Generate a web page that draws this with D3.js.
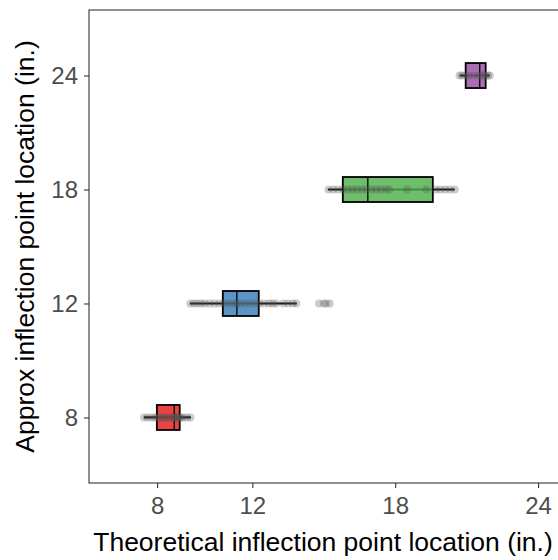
<!DOCTYPE html>
<html>
<head>
<meta charset="utf-8">
<script src="https://cdn.jsdelivr.net/npm/d3@7"></script>
<style>
  body { margin: 0; background: #fff; }
  svg { display: block; font-family: "Liberation Sans", Arial, sans-serif; }
</style>
</head>
<body>
<div id="chart"></div>
<script>
// groups (approx inflection point, in.)
const groups = ["8", "12", "18", "24"];
const colors = ["#E41A1C", "#377EB8", "#4DAF4A", "#984EA3"];

// boxplot stats, theoretical location (in.)
const whiskerLo = [7.44, 9.37, 15.17, 20.71];
const q1 = [7.99, 10.76, 15.8, 20.96];
const median = [8.72, 11.35, 16.85, 21.55];
const q3 = [8.95, 12.27, 19.58, 21.8];
const whiskerHi = [9.42, 13.87, 20.5, 21.97];

// raw observations per group
const points8 = [7.45, 7.6, 7.75, 7.9, 8.0, 8.1, 8.2, 8.3, 8.4, 8.5, 8.6, 8.7, 8.75, 8.8, 8.85, 8.9, 8.95, 9.0, 9.1, 9.25, 9.4];
const points12 = [9.4, 9.55, 9.7, 9.85, 10.0, 10.2, 10.4, 10.6, 10.8, 11.0, 11.2, 11.35, 11.5, 11.7, 11.9, 12.1, 12.3, 12.5, 12.7, 12.85, 13.0, 13.3, 13.5, 13.7, 13.85, 14.8, 15.0, 15.1, 15.25];
const points18 = [15.2, 15.4, 15.6, 15.8, 16.0, 16.2, 16.4, 16.6, 16.8, 17.0, 17.2, 17.4, 17.6, 17.75, 18.5, 19.3, 19.7, 19.9, 20.1, 20.3, 20.5];
const points24 = [20.7, 20.8, 20.95, 21.1, 21.3, 21.5, 21.6, 21.7, 21.8, 21.9, 21.97];
const pointSets = [points8, points12, points18, points24];

const xTicks = [8, 12, 18, 24];

const width = 558;
const height = 560;
const margin = { top: 10, right: 0, left: 89, bottom: 77 };
const innerHeight = height - margin.top - margin.bottom;

const svg = d3.select("#chart").append("svg")
  .attr("width", width)
  .attr("height", height);

const x = d3.scaleLinear()
  .domain([5.14, 24.9])
  .range([margin.left, margin.left + (24.9 - 5.14) * 23.81]);

const y = d3.scalePoint()
  .domain(groups)
  .range([height - margin.bottom, margin.top])
  .padding(0.575);

const boxH = 25;

const data = groups.map((g, i) => ({
  g, color: colors[i],
  lo: whiskerLo[i], q1: q1[i], med: median[i], q3: q3[i], hi: whiskerHi[i],
  pts: pointSets[i],
}));

// whiskers
svg.append("g").selectAll("line")
  .data(data)
  .join("line")
  .attr("x1", (d) => x(d.lo))
  .attr("x2", (d) => x(d.hi))
  .attr("y1", (d) => y(d.g))
  .attr("y2", (d) => y(d.g))
  .attr("stroke", "#000")
  .attr("stroke-width", 2.2);

// boxes
svg.append("g").selectAll("rect")
  .data(data)
  .join("rect")
  .attr("x", (d) => x(d.q1))
  .attr("width", (d) => x(d.q3) - x(d.q1))
  .attr("y", (d) => y(d.g) - boxH / 2)
  .attr("height", boxH)
  .attr("fill", (d) => d.color)
  .attr("fill-opacity", 0.82)
  .attr("stroke", "#000")
  .attr("stroke-width", 1.8);

// medians
svg.append("g").selectAll("line")
  .data(data)
  .join("line")
  .attr("x1", (d) => x(d.med))
  .attr("x2", (d) => x(d.med))
  .attr("y1", (d) => y(d.g) - boxH / 2)
  .attr("y2", (d) => y(d.g) + boxH / 2)
  .attr("stroke", "#000")
  .attr("stroke-width", 1.3);

// points
svg.append("g").selectAll("g")
  .data(data)
  .join("g")
  .selectAll("circle")
  .data((d) => d.pts.map((v) => ({ v, g: d.g })))
  .join("circle")
  .attr("cx", (d) => x(d.v))
  .attr("cy", (d) => y(d.g))
  .attr("r", 4)
  .attr("fill", "#555")
  .attr("fill-opacity", 0.3);

// panel border
svg.append("rect")
  .attr("x", margin.left)
  .attr("y", margin.top)
  .attr("width", width + 10 - margin.left)
  .attr("height", innerHeight)
  .attr("fill", "none")
  .attr("stroke", "#333")
  .attr("stroke-width", 1.1);

// x axis
const xAxis = svg.append("g")
  .attr("transform", `translate(0, ${height - margin.bottom})`)
  .call(d3.axisBottom(x).tickValues(xTicks).tickSize(5).tickPadding(9));
xAxis.select(".domain").remove();
xAxis.selectAll(".tick line").attr("stroke", "#333").attr("stroke-width", 1.1);
xAxis.selectAll(".tick text").attr("fill", "#4d4d4d").attr("font-size", 24);

// y axis
const yAxis = svg.append("g")
  .attr("transform", `translate(${margin.left}, 0)`)
  .call(d3.axisLeft(y).tickSize(5).tickPadding(6));
yAxis.select(".domain").remove();
yAxis.selectAll(".tick line").attr("stroke", "#333").attr("stroke-width", 1.1);
yAxis.selectAll(".tick text").attr("fill", "#4d4d4d").attr("font-size", 24);

// titles
svg.append("text")
  .attr("x", 323)
  .attr("y", 551)
  .attr("text-anchor", "middle")
  .attr("font-size", 26.5)
  .attr("fill", "#000")
  .text("Theoretical inflection point location (in.)");

svg.append("text")
  .attr("transform", `translate(34, ${margin.top + innerHeight / 2}) rotate(-90)`)
  .attr("text-anchor", "middle")
  .attr("font-size", 26.5)
  .attr("fill", "#000")
  .text("Approx inflection point location (in.)");
</script>
</body>
</html>
